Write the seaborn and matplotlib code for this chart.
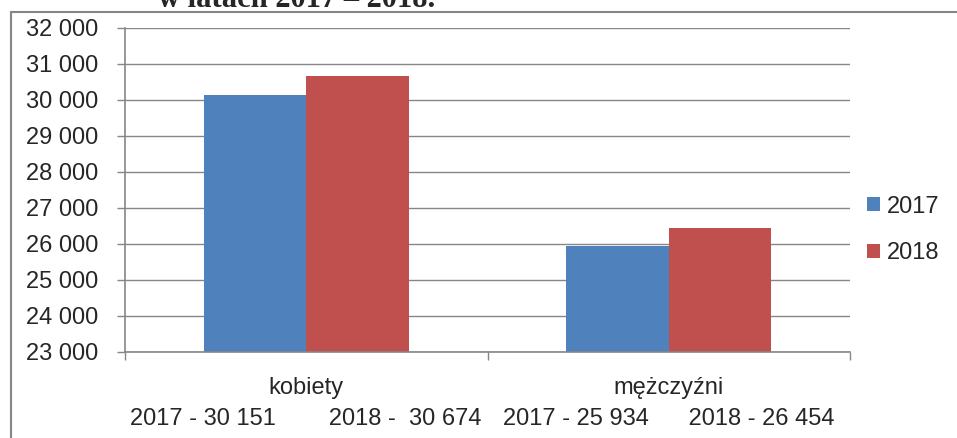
import pandas as pd
import seaborn as sns
import matplotlib.pyplot as plt
from matplotlib.ticker import FuncFormatter, FixedLocator
from matplotlib.lines import Line2D

# Data
groups = ["kobiety", "mężczyźni"]
years = ["2017", "2018"]
values_2017 = [30151, 25934]
values_2018 = [30674, 26454]
group_labels = [
    "kobiety\n2017 - 30 151        2018 -  30 674",
    "mężczyźni\n2017 - 25 934      2018 - 26 454",
]
yticks = list(range(23000, 32001, 1000))

data = pd.DataFrame({
    "grupa": groups * 2,
    "rok": [years[0]] * 2 + [years[1]] * 2,
    "liczba": values_2017 + values_2018,
})

sns.set_style("white")
plt.rcParams["font.family"] = ["Liberation Sans", "DejaVu Sans"]

grey = "#868686"
fig = plt.figure(figsize=(9.57, 4.38), dpi=100)
ax = fig.add_axes([125 / 957, 1 - 352 / 438, (850 - 125) / 957, (352 - 28) / 438])

sns.barplot(data=data, x="grupa", y="liczba", hue="rok",
            palette=["#4F81BD", "#C0504D"], width=0.565, ax=ax,
            saturation=1, legend=True, linewidth=0)

ax.set_ylim(23000, 32000)
ax.set_xlim(-0.5, 1.5)
ax.yaxis.set_major_locator(FixedLocator(yticks))
ax.yaxis.set_major_formatter(FuncFormatter(lambda v, p: f"{int(v):,}".replace(",", " ")))
ax.grid(axis="y", color=grey, linewidth=1.0)
ax.set_axisbelow(True)

for s in ["top", "right"]:
    ax.spines[s].set_visible(False)
for s in ["left", "bottom"]:
    ax.spines[s].set_color(grey)
    ax.spines[s].set_linewidth(1.2)

ax.tick_params(axis="y", length=6, width=1, color=grey, direction="out",
               labelsize=17, pad=13, left=True)
ax.set_xticks([0, 1])
ax.set_xticklabels(group_labels, fontsize=17, linespacing=1.55)
ax.tick_params(axis="x", length=0, pad=18)
ax.set_xticks([-0.5, 0.5, 1.5], minor=True)
ax.tick_params(axis="x", which="minor", length=6, width=1, color=grey,
               direction="out", bottom=True)
ax.set_xlabel("")
ax.set_ylabel("")

# Legend to the right
handles, labels = ax.get_legend_handles_labels()
ax.legend(handles, labels, loc="center left", bbox_to_anchor=(867 / 957, 1 - 230 / 438),
          bbox_transform=fig.transFigure, frameon=False, fontsize=17,
          handlelength=0.55, handleheight=0.55, handletextpad=0.3,
          labelspacing=1.05, borderaxespad=0, borderpad=0)

# Outer frame of the embedded chart
fig.add_artist(Line2D([11 / 957, 11 / 957], [0, 1 - 12 / 438], transform=fig.transFigure,
                      color=grey, linewidth=1.5))
fig.add_artist(Line2D([11 / 957, 1], [1 - 12 / 438, 1 - 12 / 438], transform=fig.transFigure,
                      color=grey, linewidth=1.5))

# Clipped document heading above the chart (cut off at the top, as in the source)
fig.text(158 / 957, 1 - 7 / 438, "w latach 2017 – 2018.", fontsize=22, fontweight="bold",
         family=["Liberation Serif", "DejaVu Serif"], va="baseline", ha="left")

plt.savefig("out.png", dpi=100)
